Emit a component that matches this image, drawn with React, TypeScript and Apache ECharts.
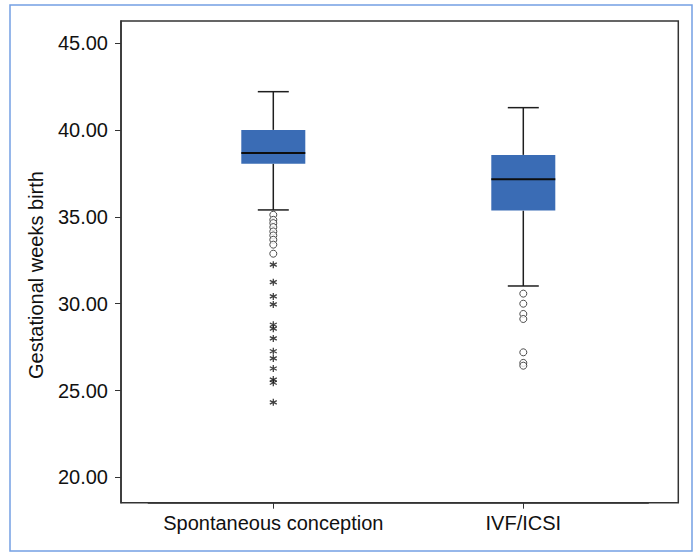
import React, { useEffect, useRef } from "react";
import * as echarts from "echarts";

const categories = ["Spontaneous conception", "IVF/ICSI"];
// [lower whisker, Q1, median, Q3, upper whisker]
const boxStats = [
  [35.4, 38.06, 38.68, 40.01, 42.21],
  [31.02, 35.36, 37.17, 38.57, 41.29],
];
const circleOutliers1 = [35.12, 34.83, 34.64, 34.41, 34.16, 33.93, 33.68, 33.4, 32.88];
const starOutliers1 = [32.25, 31.24, 30.42, 29.96, 28.79, 28.56, 28.0, 27.26, 26.85, 26.27, 25.63, 25.45, 24.32];
const circleOutliers2 = [30.58, 30.0, 29.41, 29.12, 27.2, 26.59, 26.43];
const yTicks = [20, 25, 30, 35, 40, 45];
const yMin = 18.54;
const yMax = 46.28;
const yTitle = "Gestational weeks birth";

const FONT = "'Liberation Sans', Arial, sans-serif";

export default function App() {
  const ref = useRef<HTMLDivElement>(null);
  useEffect(() => {
    if (!ref.current) return;
    const chart = echarts.init(ref.current, null, { renderer: "svg" });
    const option: any = {
      animation: false,
      backgroundColor: "#ffffff",
      grid: { left: 148.3, right: 47.7, top: 21, bottom: 50.3, containLabel: false },
      xAxis: {
        type: "category",
        data: categories,
        boundaryGap: true,
        axisLine: { show: true, lineStyle: { color: "#333", width: 1.5 } },
        axisTick: { show: true, alignWithLabel: true, length: 6, lineStyle: { color: "#333", width: 1 } },
        axisLabel: { interval: 0, fontSize: 20, color: "#111", margin: 10, fontFamily: FONT },
        splitLine: { show: false },
      },
      yAxis: {
        type: "value",
        min: yMin,
        max: yMax,
        offset: 27.3,
        axisLine: { show: true, lineStyle: { color: "#333", width: 1.5 } },
        axisTick: { show: true, length: 6, customValues: yTicks, lineStyle: { color: "#333", width: 1 } },
        axisLabel: {
          customValues: yTicks,
          fontSize: 20,
          color: "#111",
          margin: 13,
          fontFamily: FONT,
          formatter: (v: number) => v.toFixed(2),
        },
        splitLine: { show: false },
      },
      graphic: [
        {
          type: "rect",
          shape: { x: 10, y: 5, width: 682, height: 546 },
          style: { fill: "none", stroke: "#74a0e3", lineWidth: 1.5 },
          silent: true,
        },
        {
          type: "rect",
          shape: { x: 121, y: 21, width: 557.3, height: 481.7 },
          style: { fill: "none", stroke: "#333", lineWidth: 1.5 },
          silent: true,
          z: 10,
        },
        {
          type: "text",
          x: 36,
          y: 275,
          rotation: Math.PI / 2,
          style: {
            text: yTitle,
            fontSize: 20,
            fontFamily: FONT,
            fill: "#111",
            align: "center",
            verticalAlign: "middle",
          },
        },
      ],
      series: [
        {
          type: "custom",
          data: boxStats.map((s, i) => [i, ...s]),
          encode: { x: 0, y: [1, 2, 3, 4, 5] },
          renderItem: (params: any, api: any) => {
            const x = api.value(0);
            const lo = api.coord([x, api.value(1)]);
            const q1 = api.coord([x, api.value(2)]);
            const med = api.coord([x, api.value(3)]);
            const q3 = api.coord([x, api.value(4)]);
            const hi = api.coord([x, api.value(5)]);
            const cx = lo[0];
            const hw = 32;
            const cw = 15.5;
            const ls = { stroke: "#1e1e1e", lineWidth: 1.5 };
            return {
              type: "group",
              children: [
                { type: "line", shape: { x1: cx, y1: hi[1], x2: cx, y2: q3[1] }, style: ls },
                { type: "line", shape: { x1: cx, y1: q1[1], x2: cx, y2: lo[1] }, style: ls },
                { type: "line", shape: { x1: cx - cw, y1: hi[1], x2: cx + cw, y2: hi[1] }, style: ls },
                { type: "line", shape: { x1: cx - cw, y1: lo[1], x2: cx + cw, y2: lo[1] }, style: ls },
                {
                  type: "rect",
                  shape: { x: cx - hw, y: q3[1], width: 2 * hw, height: q1[1] - q3[1] },
                  style: { fill: "#3a6cb5" },
                },
                {
                  type: "line",
                  shape: { x1: cx - hw, y1: med[1], x2: cx + hw, y2: med[1] },
                  style: { stroke: "#0d0d0d", lineWidth: 2 },
                },
              ],
            };
          },
        },
        {
          type: "scatter",
          symbol: "circle",
          symbolSize: 7,
          itemStyle: { color: "#ffffff", borderColor: "#222", borderWidth: 1 },
          data: [
            ...circleOutliers1.map((v) => [0, v]),
            ...circleOutliers2.map((v) => [1, v]),
          ],
          z: 5,
        },
        {
          type: "scatter",
          symbol: "path://M5,0L5,10M0.67,2.5L9.33,7.5M0.67,7.5L9.33,2.5",
          symbolSize: 7,
          itemStyle: { color: "#111", borderColor: "#111", borderWidth: 1.3 },
          data: starOutliers1.map((v) => [0, v]),
          z: 5,
        },
      ],
    };
    chart.setOption(option);
    return () => chart.dispose();
  }, []);
  return (
    <div
      ref={ref}
      style={{ position: "absolute", left: 0, top: 0, width: 696, height: 553 }}
    />
  );
}
